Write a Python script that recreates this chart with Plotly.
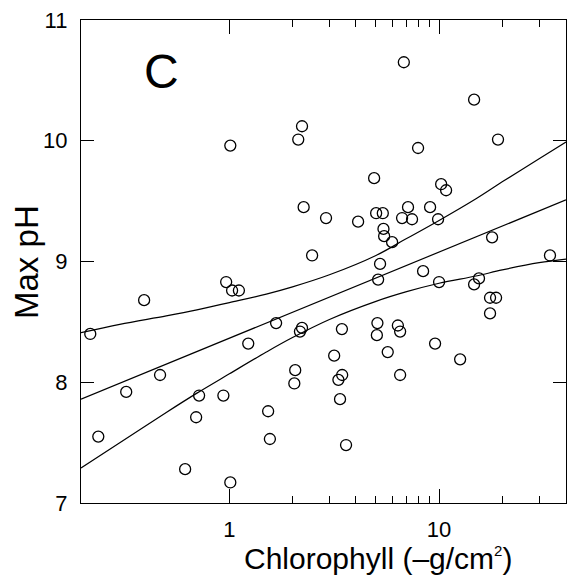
import math
import plotly.graph_objects as go

# ---- data ----
chl = [6.79, 14.69, 2.22, 2.13, 19.1, 7.94, 4.90, 10.23, 10.8, 2.26, 7.11, 9.06,
       5.01, 5.39, 2.89, 6.66, 7.43, 4.11, 9.89, 5.43, 5.47, 5.97, 2.48, 17.9,
       33.8, 5.23, 5.12, 8.39, 10.0, 14.69, 15.5, 17.5, 18.7,
       17.5, 5.08, 5.05, 6.36, 6.52, 3.44, 2.22, 2.17, 5.69, 9.57, 12.6, 3.16,
       2.06, 2.04, 3.45, 3.31, 6.52, 3.37, 3.60,
       0.217, 0.392, 0.965, 1.03, 1.11, 1.67, 1.23, 0.467, 0.322, 0.717, 0.936,
       0.694, 1.53, 1.56, 0.237, 0.615, 1.01, 1.01]
max_ph = [10.65, 10.34, 10.12, 10.01, 10.01, 9.94, 9.69, 9.64, 9.59, 9.45, 9.45, 9.45,
          9.40, 9.40, 9.36, 9.36, 9.35, 9.33, 9.35, 9.27, 9.21, 9.16, 9.05, 9.20,
          9.05, 8.98, 8.85, 8.92, 8.83, 8.81, 8.86, 8.70, 8.70,
          8.57, 8.49, 8.39, 8.47, 8.42, 8.44, 8.45, 8.42, 8.25, 8.32, 8.19, 8.22,
          8.10, 7.99, 8.06, 8.02, 8.06, 7.86, 7.48,
          8.40, 8.68, 8.83, 8.76, 8.76, 8.49, 8.32, 8.06, 7.92, 7.89, 7.89,
          7.71, 7.76, 7.53, 7.55, 7.28, 7.17, 9.96]

fit_x = [0.196, 40.3]
fit_y = [7.86, 9.51]

band_x = [0.196, 0.3, 0.5, 0.7, 1, 1.5, 2, 3, 5, 7, 10, 15, 20, 30, 40.3]
band_upper = [8.41, 8.48, 8.55, 8.60, 8.66, 8.73, 8.79, 8.89, 9.05, 9.19, 9.34, 9.52, 9.66, 9.85, 9.99]
band_lower = [7.29, 7.50, 7.75, 7.91, 8.07, 8.25, 8.37, 8.52, 8.67, 8.75, 8.82, 8.88, 8.93, 8.99, 9.02]

x_major = [1, 10]
x_major_text = ["1", "10"]
x_minor = [2, 3, 4, 5, 6, 7, 8, 9, 20, 30, 40]
y_ticks = [7, 8, 9, 10, 11]

x_range = [0.196, 40.3]
y_range = [7, 11]

FONT = "Liberation Sans, Arial, sans-serif"

fig = go.Figure()
line_style = dict(color="black", width=1.2)
fig.add_trace(go.Scatter(x=band_x, y=band_upper, mode="lines", line=dict(shape="spline", **line_style), hoverinfo="skip"))
fig.add_trace(go.Scatter(x=band_x, y=band_lower, mode="lines", line=dict(shape="spline", **line_style), hoverinfo="skip"))
fig.add_trace(go.Scatter(x=fit_x, y=fit_y, mode="lines", line=line_style, hoverinfo="skip"))
fig.add_trace(go.Scatter(
    x=chl, y=max_ph, mode="markers",
    marker=dict(symbol="circle-open", size=11, color="black", line=dict(width=1.3, color="black")),
))

axis_common = dict(
    showline=True, linecolor="black", linewidth=1.3, mirror="ticks",
    ticks="inside", tickcolor="black", tickwidth=1.2,
    showgrid=False, zeroline=False,
    tickfont=dict(family=FONT, size=22, color="black"),
)

fig.update_layout(
    width=567, height=587,
    margin=dict(l=81, r=1, t=20, b=84),
    paper_bgcolor="white", plot_bgcolor="white",
    showlegend=False,
    font=dict(family=FONT, color="black"),
    xaxis=dict(
        type="log",
        range=[math.log10(x_range[0]), math.log10(x_range[1])],
        tickmode="array", tickvals=x_major, ticktext=x_major_text,
        ticklen=14, ticklabelstandoff=6,
        minor=dict(tickmode="array", tickvals=x_minor, ticks="inside", ticklen=7,
                   tickwidth=1.1, tickcolor="black", showgrid=False),
        **axis_common,
    ),
    yaxis=dict(
        range=y_range, tickmode="array", tickvals=y_ticks,
        ticklen=13, ticklabelstandoff=8,
        **axis_common,
    ),
    annotations=[
        dict(text="C", x=0.167, y=0.893, xref="paper", yref="paper",
             showarrow=False, font=dict(family=FONT, size=48, color="black"),
             xanchor="center", yanchor="middle"),
        dict(text="Chlorophyll (–g/cm<sup><span style='font-size:15px'>2</span></sup>)",
             x=0.612, y=(503 - 558) / 483,
             xref="paper", yref="paper", showarrow=False,
             font=dict(family=FONT, size=30, color="black"),
             xanchor="center", yanchor="middle"),
        dict(text="Max pH", x=(27 - 81) / 485, y=0.499, xref="paper", yref="paper",
             showarrow=False, textangle=-90,
             font=dict(family=FONT, size=33, color="black"),
             xanchor="center", yanchor="middle"),
    ],
)

fig.write_html("out.html")
